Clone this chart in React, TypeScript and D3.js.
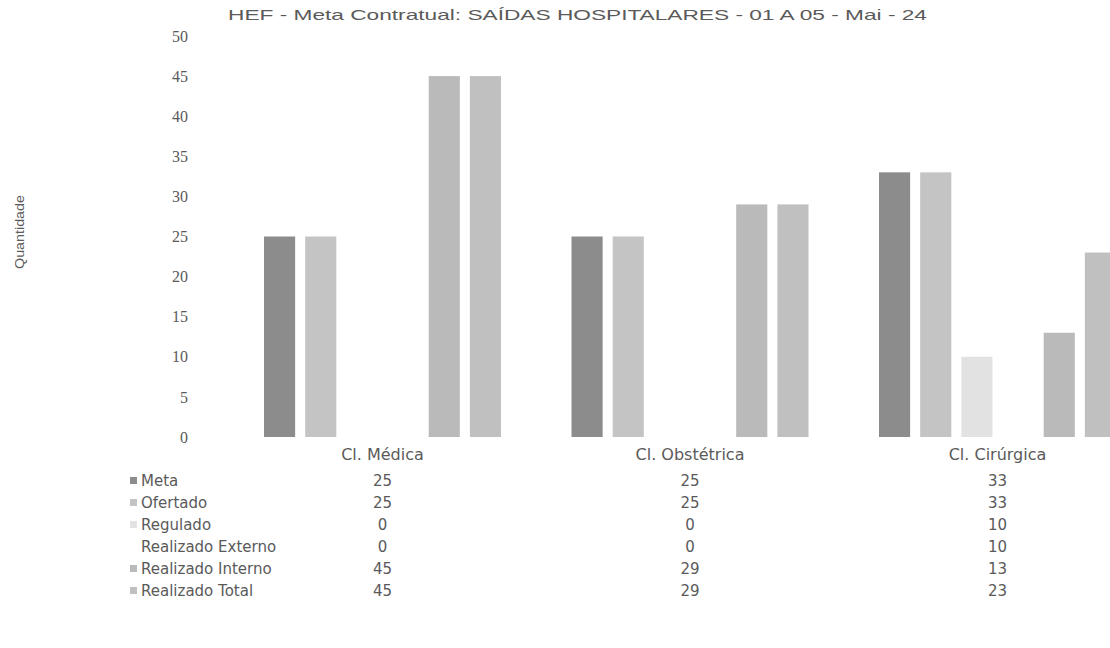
import React from "react";
import * as d3 from "d3";

const title = "HEF - Meta Contratual: SAÍDAS HOSPITALARES - 01 A 05 - Mai - 24";
const categories = ["Cl. Médica", "Cl. Obstétrica", "Cl. Cirúrgica"];
const seriesNames = ["Meta", "Ofertado", "Regulado", "Realizado Externo", "Realizado Interno", "Realizado Total"];
const meta = [25, 25, 33];
const ofertado = [25, 25, 33];
const regulado = [0, 0, 10];
const realizadoExterno = [0, 0, 10];
const realizadoInterno = [45, 29, 13];
const realizadoTotal = [45, 29, 23];
const yTicks = [0, 5, 10, 15, 20, 25, 30, 35, 40, 45, 50];
const seriesColors = ["#8c8c8c", "#c4c4c4", "#e2e2e2", "#ffffff", "#bababa", "#c0c0c0"];

const seriesValues = [meta, ofertado, regulado, realizadoExterno, realizadoInterno, realizadoTotal];

export default function App() {
  const W = 1110, H = 648;
  const y = d3.scaleLinear().domain([0, 50]).range([437, 36]);
  const x = d3.scaleBand<string>().domain(categories).range([228.75, 1151.25]).paddingInner(0).paddingOuter(0);
  const step = x.bandwidth();
  const inner = d3.scaleBand<string>().domain(seriesNames).range([step / 2 - 118.5, step / 2 + 118.5]).paddingInner(10 / 41).paddingOuter(0);
  const textColor = "#5a5a5a";
  const font = "'DejaVu Sans', Arial, sans-serif";
  const rowY = d3.scaleBand<string>().domain(seriesNames).range([470, 602]);

  return (
    <svg width={W} height={H} style={{ display: "block", position: "absolute", left: 0, top: 0, background: "#fff" }} fontFamily={font}>
      <text x={228} y={20} fontSize={15} fill={textColor} textLength={699} lengthAdjust="spacingAndGlyphs" fontFamily="'Liberation Sans', Arial, sans-serif">
        {title}
      </text>
      <text transform={`translate(24,232) rotate(-90)`} textAnchor="middle" fontSize={13} fill={textColor} fontFamily="'Liberation Sans', Arial, sans-serif" textLength={74} lengthAdjust="spacingAndGlyphs">
        Quantidade
      </text>
      {yTicks.map((t) => (
        <text key={t} x={188} y={y(t)} dy="0.35em" textAnchor="end" fontSize={16} fill={textColor} fontFamily="'Liberation Serif', serif">
          {t}
        </text>
      ))}
      {categories.map((c, ci) => (
        <g key={c} transform={`translate(${x(c)},0)`}>
          {seriesNames.map((s, si) => {
            const v = seriesValues[si][ci];
            return (
              <rect
                key={s}
                x={inner(s)}
                y={y(v)}
                width={inner.bandwidth()}
                height={y(0) - y(v)}
                fill={seriesColors[si]}
              />
            );
          })}
          <text x={step / 2} y={y(0) + 23} textAnchor="middle" fontSize={16} fill={textColor}>
            {c}
          </text>
        </g>
      ))}
      {seriesNames.map((s, si) => {
        const ry = (rowY(s) as number) + rowY.bandwidth() / 2 + 5;
        return (
          <g key={s}>
            {si !== 3 && <rect x={130} y={ry - 9} width={7} height={7} fill={seriesColors[si]} />}
            <text x={141} y={ry} fontSize={15} fill={textColor}>
              {s}
            </text>
            {categories.map((c, ci) => (
              <text key={c} x={(x(c) as number) + step / 2} y={ry} textAnchor="middle" fontSize={15} fill={textColor}>
                {seriesValues[si][ci]}
              </text>
            ))}
          </g>
        );
      })}
    </svg>
  );
}
